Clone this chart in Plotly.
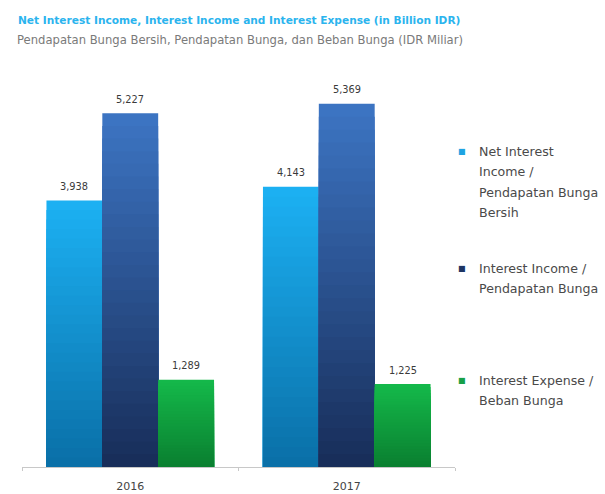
import plotly.graph_objects as go

# Data (IDR billion)
years = ["2016", "2017"]
net_interest_income = [3938, 4143]
interest_income = [5227, 5369]
interest_expense = [1289, 1225]
value_labels_nii = ["3,938", "4,143"]
value_labels_ii = ["5,227", "5,369"]
value_labels_ie = ["1,289", "1,225"]

series_names = [
    "Net Interest Income / Pendapatan Bunga Bersih",
    "Interest Income / Pendapatan Bunga",
    "Interest Expense / Beban Bunga",
]

# Styling
W, H = 605, 494
PLOT_L, PLOT_R, PLOT_T, PLOT_B = 22, 455, 61, 467
Y_MAX = 6000
BAR_W = 0.258
OFFSETS = [-0.387, -0.129, 0.129]
TOP_COLORS = [(28, 176, 242), (60, 116, 194), (20, 184, 74)]
BOTTOM_COLORS = [(10, 112, 168), (24, 46, 90), (10, 128, 48)]
LEGEND_SWATCH = ["#1ea3e2", "#1d3563", "#17a048"]
STEPS = 28
FONT = "DejaVu Sans"


def mix(c1, c2, t):
    return "rgb(%d,%d,%d)" % tuple(round(a + (b - a) * t) for a, b in zip(c1, c2))


fig = go.Figure()

all_values = [net_interest_income, interest_income, interest_expense]
all_labels = [value_labels_nii, value_labels_ii, value_labels_ie]
annotations = []

for i, (vals, labels) in enumerate(zip(all_values, all_labels)):
    # full-height bar
    fig.add_trace(go.Bar(
        x=years, y=vals, name=series_names[i],
        offset=OFFSETS[i], width=BAR_W,
        marker=dict(color=mix(TOP_COLORS[i], BOTTOM_COLORS[i], 0), line=dict(width=0)),
        showlegend=False,
    ))
    # vertical shading: progressively darker bands toward the baseline
    for k in range(1, STEPS):
        frac = 1 - k / STEPS
        fig.add_trace(go.Bar(
            x=years, y=[v * frac for v in vals],
            offset=OFFSETS[i], width=BAR_W,
            marker=dict(color=mix(TOP_COLORS[i], BOTTOM_COLORS[i], k / (STEPS - 1)),
                        line=dict(width=0)),
            hoverinfo="skip", showlegend=False,
        ))
    # value labels above each bar
    for j, (v, lab) in enumerate(zip(vals, labels)):
        annotations.append(dict(
            x=j + OFFSETS[i] + BAR_W / 2, y=v, xref="x", yref="y",
            xanchor="center", yanchor="middle", yshift=14,
            text=lab, showarrow=False,
            font=dict(size=9.8, color="#3a3a3a", family=FONT),
        ))


def px_to_paper(px, py):
    return (px - PLOT_L) / (PLOT_R - PLOT_L), (PLOT_B - py) / (PLOT_B - PLOT_T)


# Legend entries drawn line by line
legend_rows = [
    (151, ["Net Interest", "Income /", "Pendapatan Bunga", "Bersih"]),
    (268, ["Interest Income /", "Pendapatan Bunga"]),
    (380, ["Interest Expense /", "Beban Bunga"]),
]
for (y0, lines), swatch in zip(legend_rows, LEGEND_SWATCH):
    sx, sy = px_to_paper(462, y0)
    annotations.append(dict(
        x=sx, y=sy, xref="paper", yref="paper", xanchor="center", yanchor="middle",
        text="<span style='color:%s'>■</span>" % swatch, showarrow=False,
        font=dict(size=8, family="DejaVu Sans"),
    ))
    for j, line in enumerate(lines):
        lx, ly = px_to_paper(477, y0 + j * 20.5)
        annotations.append(dict(
            x=lx, y=ly, xref="paper", yref="paper", xanchor="left", yanchor="middle",
            text=line, showarrow=False,
            font=dict(size=12.6, color="#4a4a4a", family=FONT),
        ))

# Heading lines
tx, ty = px_to_paper(16, 20)
annotations.append(dict(
    x=tx, y=ty, xref="paper", yref="paper", xanchor="left", yanchor="middle",
    text="<b>Net Interest Income, Interest Income and Interest Expense (in Billion IDR)</b>",
    showarrow=False, font=dict(size=10.6, color="#2bb4ee", family=FONT),
))
sx, sy = px_to_paper(15, 40)
annotations.append(dict(
    x=sx, y=sy, xref="paper", yref="paper", xanchor="left", yanchor="middle",
    text="Pendapatan Bunga Bersih, Pendapatan Bunga, dan Beban Bunga (IDR Miliar)",
    showarrow=False, font=dict(size=11.6, color="#7a7a7a", family=FONT),
))

fig.update_layout(
    width=W, height=H,
    margin=dict(l=PLOT_L, r=W - PLOT_R, t=PLOT_T, b=H - PLOT_B, autoexpand=False),
    paper_bgcolor="white", plot_bgcolor="white",
    barmode="overlay",
    showlegend=False,
    xaxis=dict(
        type="category", range=[-0.5, 1.5],
        showline=True, linecolor="#c8c8c8", linewidth=1,
        ticks="outside", tickson="boundaries", ticklen=3, tickcolor="#c8c8c8",
        tickfont=dict(size=11, color="#444444", family=FONT),
        ticklabelstandoff=9,
        showgrid=False, zeroline=False,
    ),
    yaxis=dict(range=[0, Y_MAX], visible=False, showgrid=False, zeroline=False),
    annotations=annotations,
)

fig.write_html("out.html")
